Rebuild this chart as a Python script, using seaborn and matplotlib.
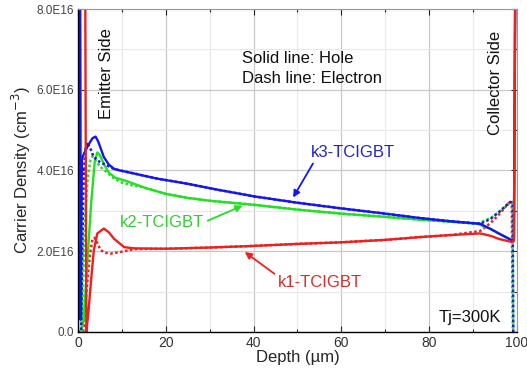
import matplotlib
matplotlib.use("Agg")
import matplotlib.pyplot as plt
import seaborn as sns
import pandas as pd
from matplotlib.ticker import MultipleLocator

sns.set_theme(style="white")
plt.rcParams['font.family'] = ['Liberation Sans', 'DejaVu Sans']

# ---- data (carrier density in units of 1E16 cm^-3, depth in um) ----
k3_hole_x = [0.0, 0.45, 0.55, 0.9, 1.5, 2.5, 3.3, 4.0, 4.6, 5.9, 7.0, 8.2, 9.6, 13, 18, 25, 32, 40, 50, 60, 70, 78, 85, 91.6, 94, 96, 98.8, 99.3, 99.6, 100]
k3_hole_y = [8.5, 8.5, 0.3, 4.3, 4.45, 4.66, 4.8, 4.84, 4.72, 4.33, 4.15, 4.04, 4.0, 3.92, 3.8, 3.67, 3.52, 3.36, 3.2, 3.06, 2.93, 2.82, 2.74, 2.68, 2.55, 2.43, 2.27, 2.3, 8.5, 8.5]
k2_hole_x = [0.0, 0.5, 0.9, 1.3, 2.0, 3.0, 3.8, 4.4, 5.0, 5.9, 7.0, 8.5, 10.7, 12.8, 15, 20, 25, 30, 40, 50, 60, 70, 78, 85, 91, 94, 96, 98.8, 99.3, 99.6]
k2_hole_y = [8.5, 8.5, 0.1, 0.3, 1.5, 3.2, 4.2, 4.45, 4.38, 4.16, 3.95, 3.82, 3.75, 3.67, 3.58, 3.42, 3.32, 3.25, 3.15, 3.03, 2.93, 2.85, 2.78, 2.73, 2.68, 2.55, 2.43, 2.28, 2.3, 8.5]
k1_hole_x = [0.0, 1.65, 1.9, 2.3, 3.0, 3.6, 4.4, 5.9, 7.0, 8.2, 10.5, 12.8, 20, 30, 40, 50, 60, 70, 78, 85, 91.6, 94, 96, 98.8, 99.3, 99.6]
k1_hole_y = [8.5, 8.5, 0.0, 0.4, 1.3, 2.02, 2.44, 2.56, 2.47, 2.31, 2.1, 2.07, 2.06, 2.09, 2.13, 2.18, 2.22, 2.28, 2.35, 2.4, 2.44, 2.38, 2.3, 2.23, 2.25, 8.5]

k3_elec_x = [0.0, 0.7, 0.9, 1.2, 1.6, 2.1, 2.8, 3.5, 4.4, 5.5, 6.7, 8.2, 9.6, 13, 18, 25, 32, 40, 50, 60, 70, 78, 85, 91.6, 94, 96, 98.4, 99.0, 99.15]
k3_elec_y = [0.0, 0.0, 1.5, 3.5, 4.5, 4.7, 4.55, 4.35, 4.25, 4.18, 4.12, 4.04, 4.0, 3.92, 3.8, 3.67, 3.52, 3.36, 3.2, 3.06, 2.93, 2.82, 2.74, 2.68, 2.8, 2.98, 3.22, 3.2, 0.0]
k2_elec_x = [0.8, 1.1, 1.6, 2.2, 2.8, 3.3, 4.0, 5.0, 6.5, 8.0, 9.7, 12, 15, 20, 25, 30, 40, 50, 60, 70, 78, 85, 91, 94, 96, 98.4, 99.0, 99.15]
k2_elec_y = [0.0, 1.0, 2.8, 3.8, 4.25, 4.35, 4.25, 4.1, 3.96, 3.82, 3.71, 3.64, 3.58, 3.42, 3.32, 3.25, 3.15, 3.03, 2.93, 2.85, 2.78, 2.73, 2.68, 2.82, 2.98, 3.2, 3.2, 0.0]
k1_elec_x = [1.2, 1.5, 2.0, 2.7, 3.3, 3.8, 4.4, 5.2, 6.3, 7.4, 9.7, 12.8, 20, 30, 40, 50, 60, 70, 78, 85, 91.6, 94, 96, 98.0, 98.8, 99.1]
k1_elec_y = [0.0, 0.4, 1.1, 1.9, 2.31, 2.33, 2.2, 2.02, 1.96, 1.94, 1.98, 2.05, 2.06, 2.09, 2.13, 2.18, 2.22, 2.28, 2.35, 2.4, 2.5, 2.7, 2.92, 3.18, 3.25, 0.0]

y_ticks = [0, 2, 4, 6, 8]
y_tick_labels = ["0.0", "2.0E16", "4.0E16", "6.0E16", "8.0E16"]
x_ticks = [0, 20, 40, 60, 80, 100]

RED = '#ee1f1f'
GREEN = '#22e022'
BLUE = '#1515ee'

fig = plt.figure(figsize=(5.27, 3.81), dpi=100)
ax = fig.add_axes([0.148, 0.129, 0.833, 0.847])

ax.grid(which='major', color='#c8c8c8', lw=0.9)
ax.grid(which='minor', color='#e8e8e8', lw=0.8)
ax.set_axisbelow(True)

dot = (0, (1, 1))
series = [
    (k1_elec_x, k1_elec_y, RED, dot),
    (k2_elec_x, k2_elec_y, GREEN, dot),
    (k2_hole_x, k2_hole_y, GREEN, '-'),
    (k3_elec_x, k3_elec_y, BLUE, dot),
    (k3_hole_x, k3_hole_y, BLUE, '-'),
    (k1_hole_x, k1_hole_y, RED, '-'),
]
for xs, ys, c, ls in series:
    df = pd.DataFrame({'x': xs, 'y': ys})
    sns.lineplot(data=df, x='x', y='y', sort=False, estimator=None, color=c,
                 linestyle=ls, lw=1.8 if ls != '-' else 1.7, ax=ax)

ax.set_xlim(0, 100)
ax.set_ylim(0, 8)
ax.set_xticks(x_ticks)
ax.set_xticklabels([str(v) for v in x_ticks], fontsize=10, color='#333333')
ax.set_yticks(y_ticks)
ax.set_yticklabels(y_tick_labels, fontsize=8.5, color='#444444')
ax.xaxis.set_minor_locator(MultipleLocator(10))
ax.yaxis.set_minor_locator(MultipleLocator(1))
ax.tick_params(which='both', direction='in', top=True, right=True, bottom=True, left=True)
ax.tick_params(which='major', length=4, width=0.8, pad=3)
ax.tick_params(which='minor', length=2.5, width=0.8)

for s in ['left', 'bottom']:
    ax.spines[s].set_color('black')
    ax.spines[s].set_linewidth(1.0)
for s in ['top', 'right']:
    ax.spines[s].set_color('#999999')
    ax.spines[s].set_linewidth(0.8)

ax.set_xlabel("Depth (\u00b5m)", fontsize=12, labelpad=0)
ax.set_ylabel("Carrier Density (cm$^{-3}$)", fontsize=12, labelpad=2)

ax.text(37.4, 6.77, "Solid line: Hole", fontsize=12, va='center', ha='left', color='#111111')
ax.text(37.4, 6.27, "Dash line: Electron", fontsize=12, va='center', ha='left', color='#111111')
ax.text(6.4, 6.4, "Emitter Side", rotation=90, fontsize=12, va='center', ha='center', color='#111111')
ax.text(95.0, 6.17, "Collector Side", rotation=90, fontsize=12, va='center', ha='center', color='#111111')
ax.text(96.5, 0.35, "Tj=300K", fontsize=12, va='center', ha='right', color='#111111')

ax.annotate("k3-TCIGBT", xy=(49, 3.33), xytext=(53.0, 4.44), fontsize=12, color='#2222cc',
            ha='left', va='center',
            arrowprops=dict(arrowstyle='-|>', color=BLUE, lw=1.3, mutation_scale=10,
                            shrinkA=0, shrinkB=0, relpos=(0.05, 0.0)))
ax.annotate("k2-TCIGBT", xy=(37.5, 3.13), xytext=(9.6, 2.72), fontsize=12, color='#33cc33',
            ha='left', va='center',
            arrowprops=dict(arrowstyle='-|>', color=GREEN, lw=1.3, mutation_scale=10,
                            shrinkA=0, shrinkB=0, relpos=(1.0, 0.5)))
ax.annotate("k1-TCIGBT", xy=(38.0, 1.98), xytext=(45.5, 1.23), fontsize=12, color='#dd2a2a',
            ha='left', va='center',
            arrowprops=dict(arrowstyle='-|>', color=RED, lw=1.3, mutation_scale=10,
                            shrinkA=0, shrinkB=0, relpos=(0.0, 0.9)))

fig.savefig("out.png", dpi=100)
